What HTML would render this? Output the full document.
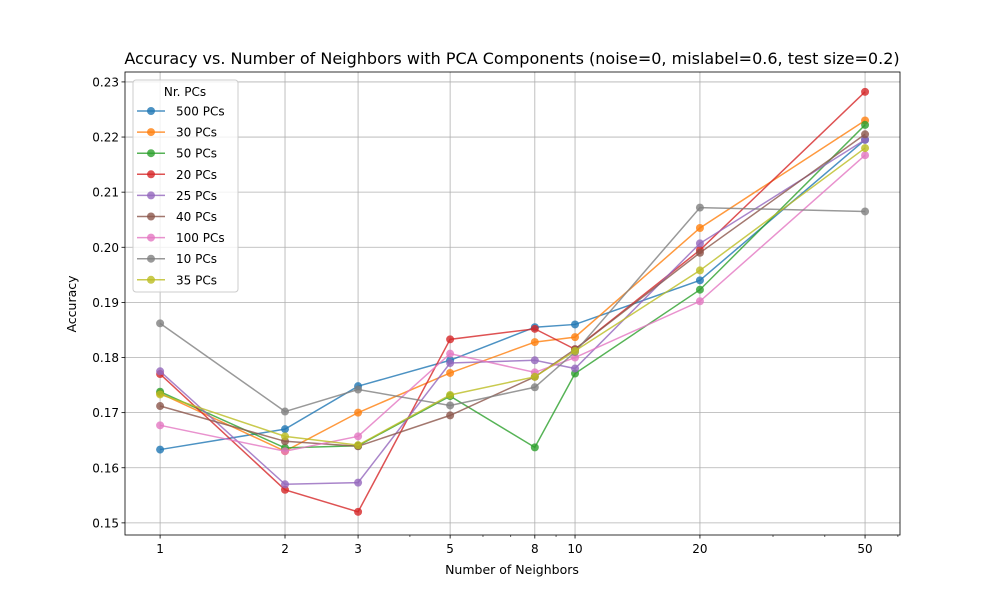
<!DOCTYPE html>
<html><head><meta charset="utf-8"><style>
body{margin:0;background:#fff;font-family:"Liberation Sans","DejaVu Sans",sans-serif;}
svg text{font-family:"DejaVu Sans","Liberation Sans",sans-serif;fill:#000;}
</style></head><body>
<svg id="chart" width="1000" height="600" xmlns="http://www.w3.org/2000/svg">
<rect width="1000" height="600" fill="#fff"/>
<g id="grid"></g><g id="axes"></g><g id="series"></g><g id="legend"></g>
<text x="512" y="64" font-size="16" text-anchor="middle">Accuracy vs. Number of Neighbors with PCA Components (noise=0, mislabel=0.6, test size=0.2)</text>
<text x="512" y="574" font-size="12.5" text-anchor="middle">Number of Neighbors</text>
<text transform="translate(76,304) rotate(-90)" font-size="12.5" text-anchor="middle">Accuracy</text>
</svg>
<script>
const neighbors=[1,2,3,5,8,10,20,50];
const seriesNames=["500 PCs","30 PCs","50 PCs","20 PCs","25 PCs","40 PCs","100 PCs","10 PCs","35 PCs"];
const s500=[0.1633,0.1670,0.1748,0.1795,0.1855,0.1860,0.1940,0.2195];
const s30=[0.1735,0.1630,0.1700,0.1772,0.1828,0.1837,0.2035,0.2230];
const s50=[0.1738,0.1636,0.1640,0.1730,0.1637,0.1771,0.1923,0.2222];
const s20=[0.1770,0.1560,0.1520,0.1833,0.1852,0.1815,0.1995,0.2282];
const s25=[0.1775,0.1570,0.1573,0.1790,0.1795,0.1780,0.2007,0.2195];
const s40=[0.1712,0.1648,0.1639,0.1695,0.1765,0.1815,0.1990,0.2205];
const s100=[0.1677,0.1630,0.1657,0.1807,0.1773,0.1800,0.1902,0.2167];
const s10=[0.1862,0.1702,0.1742,0.1713,0.1746,0.1810,0.2072,0.2065];
const s35=[0.1733,0.1657,0.1641,0.1732,0.1765,0.1812,0.1958,0.2180];
const yTicks=[0.15,0.16,0.17,0.18,0.19,0.20,0.21,0.22,0.23];
const xMinor=[4,6,7,9,30,40,60];
const allSeries=[s500,s30,s50,s20,s25,s40,s100,s10,s35];
const colors=["#1f77b4","#ff7f0e","#2ca02c","#d62728","#9467bd","#8c564b","#e377c2","#7f7f7f","#bcbd22"];
const L=125,R=900,T=72,B=535;
const xMinL=Math.log10(0.823),xMaxL=Math.log10(60.7);
const yMin=0.1478,yMax=0.2318;
const xs=v=>L+(Math.log10(v)-xMinL)/(xMaxL-xMinL)*(R-L);
const ys=v=>B-(v-yMin)/(yMax-yMin)*(B-T);
const NS="http://www.w3.org/2000/svg";
function mk(tag,attrs,parent){const e=document.createElementNS(NS,tag);for(const k in attrs)e.setAttribute(k,attrs[k]);parent.appendChild(e);return e;}
const grid=document.getElementById('grid'),axes=document.getElementById('axes'),ser=document.getElementById('series'),leg=document.getElementById('legend');
neighbors.forEach(n=>{const x=xs(n);
 const g=mk('line',{x1:x,x2:x,y1:T,y2:B,stroke:'#b0b0b0','stroke-width':0.8},grid);
 
 mk('line',{x1:x,x2:x,y1:B,y2:B+3.5,stroke:'#000','stroke-width':0.8},axes);
 const t=mk('text',{x:x,y:B+18,'font-size':12,'text-anchor':'middle'},axes);t.textContent=n;
 });
xMinor.forEach(n=>{const x=xs(n);mk('line',{x1:x,x2:x,y1:B,y2:B+2,stroke:'#000','stroke-width':0.6},axes);});
yTicks.forEach(v=>{const y=ys(v);
 const g=mk('line',{x1:L,x2:R,y1:y,y2:y,stroke:'#b0b0b0','stroke-width':0.8},grid);
 
 mk('line',{x1:L-3.5,x2:L,y1:y,y2:y,stroke:'#000','stroke-width':0.8},axes);
 const t=mk('text',{x:L-6,y:y+4.5,'font-size':12,'text-anchor':'end'},axes);t.textContent=v.toFixed(2);
 });
const frame=mk('rect',{x:L,y:T,width:R-L,height:B-T,fill:'none',stroke:'#000','stroke-width':0.8},axes);

allSeries.forEach((s,i)=>{
 const g=mk('g',{},ser);
 
 
 mk('polyline',{points:s.map((v,j)=>xs(neighbors[j])+','+ys(v)).join(' '),fill:'none',stroke:colors[i],'stroke-width':1.5,opacity:0.8},g);
 s.forEach((v,j)=>{const c=mk('circle',{cx:xs(neighbors[j]),cy:ys(v),r:4,fill:colors[i],opacity:0.8},g);
  });
});
const lb=mk('rect',{x:133,y:80,width:105,height:212,rx:3,fill:'#fff','fill-opacity':0.8,stroke:'#ccc'},leg);

const lt=mk('text',{x:185,y:96,'font-size':12,'text-anchor':'middle'},leg);lt.textContent='Nr. PCs';

seriesNames.forEach((n,i)=>{const y=111+i*21.1;
 const g=mk('g',{},leg);
 
 mk('line',{x1:137,x2:165,y1:y,y2:y,stroke:colors[i],'stroke-width':1.5,opacity:0.8},g);
 mk('circle',{cx:151,cy:y,r:4,fill:colors[i],opacity:0.8},g);
 const t=mk('text',{x:176,y:y+4.5,'font-size':12},g);t.textContent=n;});
</script>
</body></html>
